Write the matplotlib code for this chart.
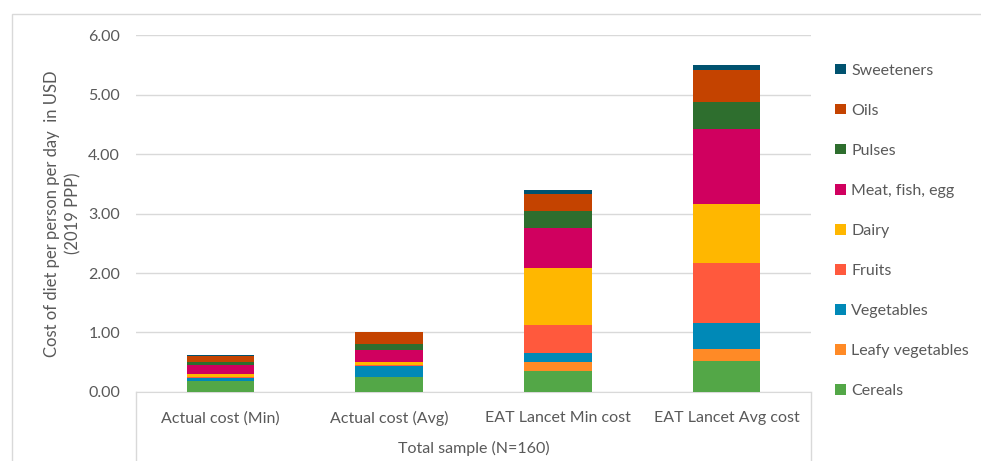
import numpy as np
import matplotlib.pyplot as plt
from matplotlib.patches import Rectangle
from matplotlib.lines import Line2D

plt.rcParams['font.family'] = ['Lato', 'DejaVu Sans']

categories = ["Actual cost (Min)", "Actual cost (Avg)", "EAT Lancet Min cost", "EAT Lancet Avg cost"]
food_groups = ["Cereals", "Leafy vegetables", "Vegetables", "Fruits", "Dairy",
               "Meat, fish, egg", "Pulses", "Oils", "Sweeteners"]

# cost per food group (USD/person/day), one array per group across the 4 diets
cereals = [0.18, 0.25, 0.35, 0.52]
leafy_veg = [0.01, 0.01, 0.15, 0.21]
vegetables = [0.05, 0.17, 0.15, 0.43]
fruits = [0.01, 0.02, 0.48, 1.01]
dairy = [0.05, 0.05, 0.95, 0.99]
meat_fish_egg = [0.15, 0.21, 0.68, 1.26]
pulses = [0.05, 0.09, 0.29, 0.45]
oils = [0.11, 0.20, 0.28, 0.55]
sweeteners = [0.01, 0.00, 0.06, 0.08]

values = [cereals, leafy_veg, vegetables, fruits, dairy, meat_fish_egg, pulses, oils, sweeteners]
colors = ["#53A747", "#FF8A26", "#0089B7", "#FF593D", "#FFB700",
          "#D0005F", "#2E6E2E", "#C44300", "#00526F"]

txt = "#595959"

fig = plt.figure(figsize=(9.81, 4.61), dpi=100)
ax = fig.add_axes([0.1386, 0.1497, 0.688, 0.7743])

x = np.arange(len(categories))
bottom = np.zeros(len(categories))
bars = []
for vals, col, name in zip(values, colors, food_groups):
    b = ax.bar(x, vals, width=0.4, bottom=bottom, color=col, label=name, zorder=3)
    bars.append(b)
    bottom += np.array(vals)

ax.set_xlim(-0.5, 3.5)
ax.set_ylim(0, 6)
ax.set_yticks(np.arange(0, 7, 1))
ax.set_yticklabels([f"{v:.2f}" for v in range(7)])
ax.yaxis.grid(True, color="#D9D9D9", linewidth=1.0, zorder=0)
ax.set_axisbelow(True)
for s in ["left", "right", "top"]:
    ax.spines[s].set_visible(False)
ax.spines["bottom"].set_color("#D9D9D9")
ax.tick_params(axis="y", length=0, pad=11.5, labelsize=11.5, labelcolor=txt)
ax.tick_params(axis="x", length=0, pad=14, labelsize=11.5, labelcolor=txt)
ax.set_xticks(x)
ax.set_xticklabels(categories)

ax.set_ylabel("Cost of diet per person per day  in USD\n(2019 PPP)", fontsize=12,
              color=txt, labelpad=5, linespacing=1.4)

# box around the category labels
for xa in [0, 1]:
    ax.add_line(Line2D([xa, xa], [0, -0.2], transform=ax.transAxes, color="#D9D9D9",
                       linewidth=1.0, clip_on=False))
ax.text(0.5, -0.158, "Total sample (N=160)", transform=ax.transAxes, ha="center",
        va="center", fontsize=11.5, color=txt)

leg = ax.legend(handles=bars[::-1], loc="upper left", bbox_to_anchor=(1.015, 0.96),
                frameon=False, fontsize=11.5, labelspacing=1.63, handlelength=0.65,
                handleheight=0.65, handletextpad=0.35, labelcolor=txt)

# outer chart frame
fig.patches.append(Rectangle((12 / 981, -0.01), 1.0, 1 - 14 / 461 + 0.01,
                             transform=fig.transFigure, fill=False,
                             edgecolor="#D9D9D9", linewidth=1.0))

fig.savefig("out.png", dpi=100)
